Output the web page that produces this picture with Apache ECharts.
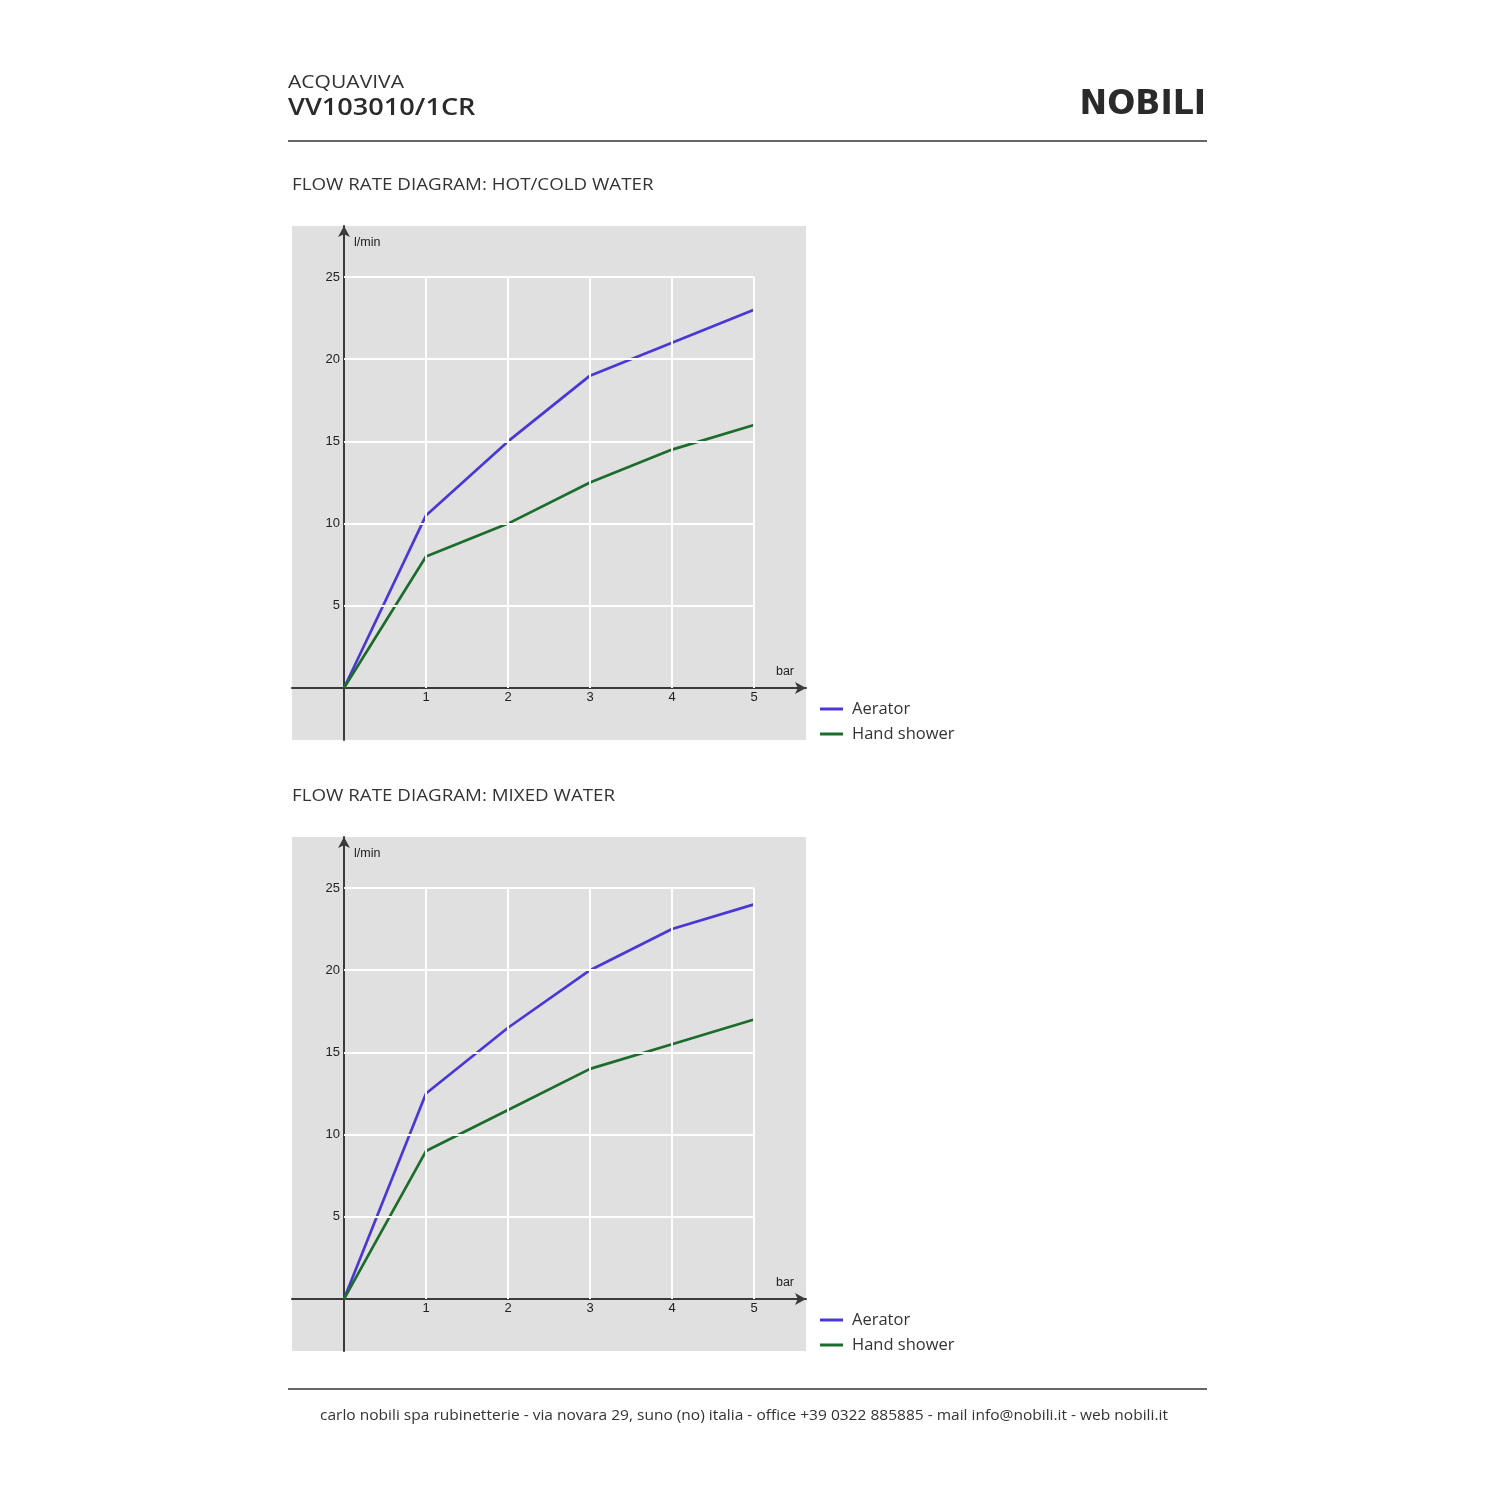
<!DOCTYPE html>
<html>
<head>
<meta charset="utf-8">
<script src="https://cdn.jsdelivr.net/npm/echarts@6/dist/echarts.min.js"></script>
<style>
    html, body { margin: 0; padding: 0; background: #fff; }
    #main { width: 1500px; height: 1500px; }
</style>
</head>
<body>
<div id="main"></div>
<script>
// pressure in bar
var pressure = [0, 1, 2, 3, 4, 5];
// hot/cold water, l/min
var hotAerator = [0, 10.5, 15, 19, 21, 23];
var hotShower = [0, 8, 10, 12.5, 14.5, 16];
// mixed water, l/min
var mixAerator = [0, 12.5, 16.5, 20, 22.5, 24];
var mixShower = [0, 9, 11.5, 14, 15.5, 17];
var xTicks = [1, 2, 3, 4, 5];
var yTicks = [5, 10, 15, 20, 25];
var seriesNames = ['Aerator', 'Hand shower'];

var blue = '#4a38d6';
var green = '#1c6c2b';
var textFont = 'Open Sans';

function pairs(ys) {
    return pressure.map(function (x, i) { return [x, ys[i]]; });
}

function gridLines() {
    var xMax = xTicks[xTicks.length - 1];
    var yMax = yTicks[yTicks.length - 1];
    var lines = [];
    xTicks.forEach(function (x) {
        lines.push([{ coord: [x, 0] }, { coord: [x, yMax] }]);
    });
    yTicks.forEach(function (y) {
        lines.push([{ coord: [0, y] }, { coord: [xMax, y] }]);
    });
    return lines;
}

// axes sit on zero, pushed inside the grey box with a negative offset
function makeAxes(idx) {
    var common = {
        gridIndex: idx,
        type: 'value',
        offset: -52,
        splitLine: { show: false },
        axisLine: {
            onZero: false,
            symbol: ['none', 'arrow'],
            symbolSize: [9, 11],
            lineStyle: { color: '#3a3a3a', width: 2 }
        },
        axisTick: { inside: true, length: 4, lineStyle: { color: '#555', width: 1 } },
        axisLabel: { color: '#222', fontSize: 13, fontFamily: 'Liberation Sans' },
        nameTextStyle: { color: '#222', fontSize: 12.5, fontFamily: 'Liberation Sans' }
    };
    var x = echarts.util.merge({
        position: 'bottom',
        min: -0.634,
        max: 5.634,
        name: 'bar',
        nameLocation: 'end',
        nameGap: -21,
        nameTextStyle: { align: 'center', verticalAlign: 'bottom', padding: [0, 0, 10, 0] },
        axisTick: { customValues: xTicks },
        axisLabel: { customValues: xTicks, margin: 3 }
    }, common);
    var y = echarts.util.merge({
        position: 'left',
        min: -3.16,
        max: 28.1,
        name: 'l/min',
        nameLocation: 'end',
        nameGap: -17,
        nameTextStyle: { align: 'left', verticalAlign: 'middle', padding: [0, 0, 0, 10] },
        axisTick: { customValues: yTicks },
        axisLabel: { customValues: yTicks, margin: 4 }
    }, common);
    return { x: x, y: y };
}

var a0 = makeAxes(0);
var a1 = makeAxes(1);

function chartSeries(idx, aer, sho) {
    return [
        {
            type: 'line', xAxisIndex: idx, yAxisIndex: idx, data: [], z: 1, silent: true,
            markLine: {
                silent: true, symbol: 'none', animation: false,
                label: { show: false },
                lineStyle: { color: '#ffffff', width: 2, type: 'solid' },
                data: gridLines()
            }
        },
        {
            name: seriesNames[0], type: 'line', xAxisIndex: idx, yAxisIndex: idx, z: 3,
            data: pairs(aer), showSymbol: false,
            lineStyle: { color: blue, width: 2.7 }, itemStyle: { color: blue }
        },
        {
            name: seriesNames[1], type: 'line', xAxisIndex: idx, yAxisIndex: idx, z: 3,
            data: pairs(sho), showSymbol: false,
            lineStyle: { color: green, width: 2.7 }, itemStyle: { color: green }
        }
    ];
}

function legendAt(top) {
    return {
        orient: 'vertical', left: 820, top: top, padding: 0,
        icon: 'rect', itemWidth: 23, itemHeight: 3, itemGap: 5,
        textStyle: { color: '#333', fontSize: 16.5, fontFamily: textFont, lineHeight: 20, padding: [0, 0, 0, 4] },
        selectedMode: false,
        data: seriesNames
    };
}

// the brochure font is wider than anything installed, so stretch it a little
function txt(x, y, s, size, opts) {
    opts = opts || {};
    return {
        type: 'text', x: x, y: y, silent: true,
        scaleX: opts.stretch || 1,
        style: {
            text: s, fill: opts.color || '#2a2a2a', fontSize: size, fontWeight: opts.weight || 'normal',
            fontFamily: opts.family || textFont, textAlign: opts.align || 'left', textVerticalAlign: 'middle'
        }
    };
}

function rule(y) {
    return {
        type: 'line', silent: true,
        shape: { x1: 288, y1: y, x2: 1207, y2: y },
        style: { stroke: '#333', lineWidth: 1.5 }
    };
}

var myChart = echarts.init(document.getElementById('main'));
var option = {
    animation: false,
    grid: [
        { left: 292, top: 226, width: 514, height: 514, show: true, backgroundColor: '#e0e0e0', borderWidth: 0 },
        { left: 292, top: 837, width: 514, height: 514, show: true, backgroundColor: '#e0e0e0', borderWidth: 0 }
    ],
    xAxis: [a0.x, a1.x],
    yAxis: [a0.y, a1.y],
    legend: [legendAt(699), legendAt(1310)],
    graphic: [
        txt(288, 83, 'ACQUAVIVA', 18, { stretch: 1.17, color: '#333' }),
        txt(288, 108, 'VV103010/1CR', 24, { weight: '600', stretch: 1.13 }),
        txt(1206, 105, 'NOBILI', 33, { weight: 'bold', family: 'DejaVu Sans', align: 'right' }),
        rule(141),
        txt(292, 186, 'FLOW RATE DIAGRAM: HOT/COLD WATER', 15.5, { stretch: 1.21, color: '#333' }),
        txt(292, 797, 'FLOW RATE DIAGRAM: MIXED WATER', 15.5, { stretch: 1.21, color: '#333' }),
        rule(1389),
        txt(744, 1416, 'carlo nobili spa rubinetterie - via novara 29, suno (no) italia - office +39 0322 885885 - mail info@nobili.it - web nobili.it', 14.5, { stretch: 1.07, color: '#333', align: 'center' })
    ],
    series: chartSeries(0, hotAerator, hotShower).concat(chartSeries(1, mixAerator, mixShower))
};
myChart.setOption(option);
</script>
</body>
</html>
